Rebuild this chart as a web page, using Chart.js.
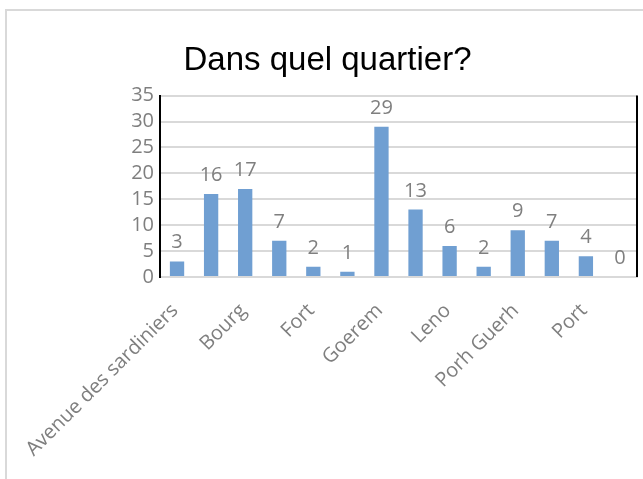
<!DOCTYPE html>
<html>
<head>
<meta charset="utf-8">
<script src="https://cdn.jsdelivr.net/npm/chart.js@4/dist/chart.umd.min.js"></script>
<style>
  html, body { margin: 0; padding: 0; background: #fff; }
  #frame { position: absolute; left: 5px; top: 9px; width: 700px; height: 600px; border: 2px solid #d9d9d9; }
  #wrap { position: absolute; left: 0; top: 0; width: 643px; height: 479px; }
</style>
</head>
<body>
<div id="frame"></div>
<div id="wrap"><canvas id="chart" width="643" height="479"></canvas></div>
<script>
// neighbourhoods; only every other name is legible in the picture
const quartiers = [
  "Avenue des sardiniers", "", "Bourg", "", "Fort", "", "Goerem",
  "", "Leno", "", "Porh Guerh", "", "Port", ""
];
const reponses = [3, 16, 17, 7, 2, 1, 29, 13, 6, 2, 9, 7, 4, 0];
const yTicks = { min: 0, max: 35, step: 5 };

const grey = "#7f7f7f";
const fontFamily = "'Open Sans', 'Noto Sans', sans-serif";
const tickFont = { family: fontFamily, size: 20 };

// value printed above every bar
const valueLabels = {
  id: "valueLabels",
  afterDatasetsDraw(chart) {
    const ctx = chart.ctx;
    const meta = chart.getDatasetMeta(0);
    ctx.save();
    ctx.fillStyle = grey;
    ctx.font = "20px " + fontFamily;
    ctx.textAlign = "center";
    ctx.textBaseline = "alphabetic";
    meta.data.forEach((bar, i) => {
      ctx.fillText(String(reponses[i]), bar.x, bar.y - 13);
    });
    ctx.restore();
  },
};

// black line closing the plot on the right
const rightEdge = {
  id: "rightEdge",
  afterDraw(chart) {
    const { ctx, chartArea } = chart;
    ctx.save();
    ctx.strokeStyle = "#000";
    ctx.lineWidth = 2;
    ctx.beginPath();
    ctx.moveTo(chartArea.right, chartArea.top);
    ctx.lineTo(chartArea.right, chartArea.bottom);
    ctx.stroke();
    ctx.restore();
  },
};

new Chart(document.getElementById("chart"), {
  type: "bar",
  data: {
    labels: quartiers,
    datasets: [
      {
        data: reponses,
        backgroundColor: "#709fd2",
        barPercentage: 0.42,
        categoryPercentage: 1,
      },
    ],
  },
  options: {
    responsive: false,
    animation: false,
    layout: { padding: { left: 18, right: 6, top: 0, bottom: 0 } },
    plugins: {
      legend: { display: false },
      tooltip: { enabled: false },
      title: {
        display: true,
        text: "Dans quel quartier?",
        color: "#000",
        font: { family: "'Liberation Sans Narrow', 'Liberation Sans', sans-serif", size: 33, weight: "normal" },
        padding: { top: 41, bottom: 15 },
      },
    },
    scales: {
      x: {
        grid: { display: false },
        border: { color: "#d9d9d9", width: 2 },
        ticks: {
          autoSkip: false,
          minRotation: 45,
          maxRotation: 45,
          color: grey,
          font: tickFont,
          labelOffset: -2,
          padding: 14,
        },
        afterFit(scale) {
          scale.height = 202;
          scale.paddingLeft = 0;
          scale.paddingRight = 0;
        },
      },
      y: {
        min: yTicks.min,
        max: yTicks.max,
        ticks: { stepSize: yTicks.step, autoSkip: false, color: grey, font: tickFont, padding: 6 },
        grid: { color: "#d9d9d9", lineWidth: 2, drawTicks: false },
        border: { color: "#000", width: 2 },
        afterFit(scale) { scale.width = 142; },
      },
    },
  },
  plugins: [valueLabels, rightEdge],
});
</script>
</body>
</html>
